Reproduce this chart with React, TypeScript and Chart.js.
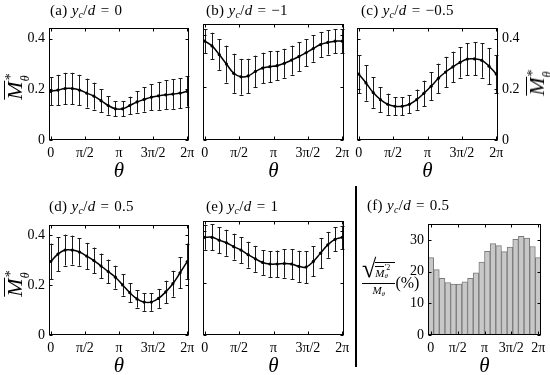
import React, { useEffect, useRef } from 'react';
import { Chart, registerables } from 'chart.js';

Chart.register(...registerables);

// ---------- data ----------
const THETA = Array.from({ length: 20 }, (_, i) => (2 * Math.PI * i) / 19);
const THETA_TICK_VALUES = [0, Math.PI / 2, Math.PI, (3 * Math.PI) / 2, 2 * Math.PI];
const THETA_TICK_LABELS = ['0', 'π/2', 'π', '3π/2', '2π'];
const M_TICK_VALUES = [0, 0.2, 0.4];
const M_TICK_LABELS = ['0', '0.2', '0.4'];
const F_TICK_VALUES = [0, 10, 20, 30];
const F_TICK_LABELS = ['0', '10', '20', '30'];

const A_MEAN = [0.192, 0.197, 0.203, 0.203, 0.197, 0.185, 0.173, 0.155, 0.136, 0.123, 0.123, 0.136, 0.15, 0.16, 0.169, 0.174, 0.178, 0.181, 0.185, 0.192];
const A_ERR = [0.055, 0.06, 0.062, 0.062, 0.06, 0.057, 0.053, 0.045, 0.036, 0.03, 0.03, 0.035, 0.042, 0.048, 0.052, 0.055, 0.057, 0.058, 0.059, 0.06];

const B_MEAN = [0.375, 0.357, 0.324, 0.288, 0.253, 0.24, 0.243, 0.26, 0.273, 0.278, 0.282, 0.291, 0.303, 0.316, 0.331, 0.347, 0.362, 0.37, 0.375, 0.375];
const B_ERR = [0.046, 0.05, 0.058, 0.07, 0.074, 0.068, 0.065, 0.06, 0.058, 0.058, 0.056, 0.055, 0.055, 0.054, 0.052, 0.05, 0.048, 0.046, 0.045, 0.045];

const C_MEAN = [0.26, 0.225, 0.187, 0.159, 0.141, 0.133, 0.133, 0.141, 0.159, 0.184, 0.212, 0.243, 0.268, 0.288, 0.306, 0.319, 0.32, 0.314, 0.291, 0.26];
const C_ERR = [0.075, 0.07, 0.06, 0.05, 0.042, 0.036, 0.035, 0.036, 0.04, 0.05, 0.055, 0.058, 0.06, 0.06, 0.06, 0.063, 0.065, 0.068, 0.072, 0.075];

const D_MEAN = [0.295, 0.325, 0.341, 0.341, 0.333, 0.317, 0.299, 0.277, 0.255, 0.232, 0.201, 0.17, 0.145, 0.132, 0.132, 0.147, 0.173, 0.206, 0.25, 0.295];
const D_ERR = [0.072, 0.068, 0.062, 0.058, 0.055, 0.053, 0.052, 0.05, 0.048, 0.046, 0.043, 0.038, 0.035, 0.035, 0.035, 0.038, 0.045, 0.052, 0.062, 0.072];

const E_MEAN = [0.377, 0.377, 0.366, 0.356, 0.341, 0.328, 0.31, 0.294, 0.28, 0.274, 0.274, 0.276, 0.274, 0.265, 0.262, 0.284, 0.316, 0.348, 0.369, 0.377];
const E_ERR = [0.048, 0.05, 0.05, 0.05, 0.05, 0.05, 0.05, 0.05, 0.048, 0.05, 0.052, 0.055, 0.058, 0.06, 0.062, 0.058, 0.058, 0.05, 0.046, 0.045];

const F_VALUES = [24.5, 20.7, 17.9, 16.6, 16.1, 16.1, 16.8, 17.9, 19.7, 23.1, 26.5, 28.9, 28.3, 26.4, 27.8, 30.3, 31.2, 30.7, 28.0, 24.5];

// ---------- layout ----------
const FONT = '"Liberation Serif", "Times New Roman", serif';
const SIDE = 45;
const TOP_PAD = 8;
const XAXIS_H = 44;

type Area = { l: number; r: number; t: number; b: number };
type Spec = {
  kind: 'line' | 'bar';
  values: number[];
  err?: number[];
  area: Area;
  yAxis: 'left' | 'right' | 'none';
  yMax: number;
  yTickValues: number[];
  yTickLabels: string[];
  xPad: number;
};

const SPECS: Spec[] = [
  { kind: 'line', values: A_MEAN, err: A_ERR, area: { l: 49, r: 189, t: 24, b: 140 }, yAxis: 'left', yMax: 0.44, yTickValues: M_TICK_VALUES, yTickLabels: M_TICK_LABELS, xPad: 0.08 },
  { kind: 'line', values: B_MEAN, err: B_ERR, area: { l: 203, r: 344, t: 24, b: 140 }, yAxis: 'none', yMax: 0.44, yTickValues: M_TICK_VALUES, yTickLabels: M_TICK_LABELS, xPad: 0.08 },
  { kind: 'line', values: C_MEAN, err: C_ERR, area: { l: 357, r: 498, t: 24, b: 140 }, yAxis: 'right', yMax: 0.44, yTickValues: M_TICK_VALUES, yTickLabels: M_TICK_LABELS, xPad: 0.08 },
  { kind: 'line', values: D_MEAN, err: D_ERR, area: { l: 49, r: 189, t: 221, b: 335 }, yAxis: 'left', yMax: 0.44, yTickValues: M_TICK_VALUES, yTickLabels: M_TICK_LABELS, xPad: 0.08 },
  { kind: 'line', values: E_MEAN, err: E_ERR, area: { l: 203, r: 344, t: 221, b: 335 }, yAxis: 'none', yMax: 0.44, yTickValues: M_TICK_VALUES, yTickLabels: M_TICK_LABELS, xPad: 0.08 },
  { kind: 'bar', values: F_VALUES, area: { l: 428, r: 541, t: 220, b: 335 }, yAxis: 'left', yMax: 35, yTickValues: F_TICK_VALUES, yTickLabels: F_TICK_LABELS, xPad: Math.PI / 19 },
];

// ---------- plugins ----------
const errorBarPlugin = {
  id: 'errbars',
  beforeDatasetsDraw(chart: any, _args: any, opts: any) {
    if (!opts || !opts.err) return;
    const { ctx, scales } = chart;
    const xs = scales.x;
    const ys = scales.y;
    ctx.save();
    ctx.strokeStyle = '#1a1a1a';
    ctx.lineWidth = 1;
    opts.x.forEach((xv: number, i: number) => {
      const px = Math.round(xs.getPixelForValue(xv)) + 0.5;
      const y1 = ys.getPixelForValue(opts.y[i] + opts.err[i]);
      const y2 = ys.getPixelForValue(opts.y[i] - opts.err[i]);
      ctx.beginPath();
      ctx.moveTo(px, y1);
      ctx.lineTo(px, y2);
      ctx.moveTo(px - 2, Math.round(y1) + 0.5);
      ctx.lineTo(px + 2, Math.round(y1) + 0.5);
      ctx.moveTo(px - 2, Math.round(y2) + 0.5);
      ctx.lineTo(px + 2, Math.round(y2) + 0.5);
      ctx.stroke();
    });
    ctx.restore();
  },
};

const framePlugin = {
  id: 'frame',
  afterDatasetsDraw(chart: any) {
    const { ctx, chartArea, scales } = chart;
    const l = Math.round(chartArea.left) + 0.5;
    const r = Math.round(chartArea.right) - 0.5;
    const t = Math.round(chartArea.top) + 0.5;
    const b = Math.round(chartArea.bottom) - 0.5;
    ctx.save();
    ctx.strokeStyle = '#000';
    ctx.lineWidth = 1;
    ctx.strokeRect(l, t, r - l, b - t);
    const tl = 3;
    ctx.beginPath();
    scales.x.ticks.forEach((tk: any) => {
      const px = Math.round(scales.x.getPixelForValue(tk.value)) + 0.5;
      ctx.moveTo(px, b);
      ctx.lineTo(px, b - tl);
      ctx.moveTo(px, t);
      ctx.lineTo(px, t + tl);
    });
    scales.y.ticks.forEach((tk: any) => {
      const py = Math.round(scales.y.getPixelForValue(tk.value)) + 0.5;
      ctx.moveTo(l, py);
      ctx.lineTo(l + tl, py);
      ctx.moveTo(r, py);
      ctx.lineTo(r - tl, py);
    });
    ctx.stroke();
    ctx.restore();
  },
};

function buildConfig(spec: Spec): any {
  const isBar = spec.kind === 'bar';
  const data = THETA.map((x, i) => ({ x, y: spec.values[i] }));
  const dataset: any = isBar
    ? {
        type: 'bar',
        data,
        backgroundColor: '#c8c8c8',
        borderColor: '#7a7a7a',
        borderWidth: 1,
        barPercentage: 1,
        categoryPercentage: 1,
      }
    : {
        type: 'line',
        data,
        borderColor: '#000',
        borderWidth: 1.5,
        backgroundColor: '#000',
        pointRadius: 1.6,
        pointBorderWidth: 0,
        pointBackgroundColor: '#000',
        tension: 0.4,
        fill: false,
      };
  const padding =
    spec.yAxis === 'right'
      ? { left: SIDE, right: 0, top: TOP_PAD, bottom: 0 }
      : { left: 0, right: SIDE, top: TOP_PAD, bottom: 0 };
  return {
    type: isBar ? 'bar' : 'line',
    data: { datasets: [dataset] },
    plugins: [errorBarPlugin, framePlugin],
    options: {
      responsive: false,
      maintainAspectRatio: false,
      animation: false,
      devicePixelRatio: 1,
      events: [],
      layout: { padding },
      plugins: {
        legend: { display: false },
        tooltip: { enabled: false },
        title: { display: false },
        errbars: spec.err ? { x: THETA, y: spec.values, err: spec.err } : {},
      },
      scales: {
        x: {
          type: 'linear',
          min: -spec.xPad,
          max: 2 * Math.PI + spec.xPad,
          offset: false,
          bounds: 'data',
          afterBuildTicks: (s: any) => {
            s.ticks = THETA_TICK_VALUES.map((v) => ({ value: v }));
          },
          afterFit: (s: any) => {
            s.height = XAXIS_H;
          },
          grid: { display: false, drawTicks: false },
          border: { display: false },
          ticks: {
            autoSkip: false,
            maxRotation: 0,
            padding: 5,
            color: '#000',
            font: { family: FONT, size: 14 },
            callback: (v: number) => {
              const idx = THETA_TICK_VALUES.findIndex((tv) => Math.abs(tv - v) < 1e-6);
              return idx >= 0 ? THETA_TICK_LABELS[idx] : '';
            },
          },
          title: {
            display: true,
            text: 'θ',
            color: '#000',
            padding: 0,
            font: { family: FONT, size: 21, style: 'italic' },
          },
        },
        y: {
          type: 'linear',
          position: spec.yAxis === 'right' ? 'right' : 'left',
          min: 0,
          max: spec.yMax,
          bounds: 'data',
          afterBuildTicks: (s: any) => {
            s.ticks = spec.yTickValues.map((v) => ({ value: v }));
          },
          afterFit: (s: any) => {
            s.width = SIDE;
          },
          grid: { display: false, drawTicks: false },
          border: { display: false },
          ticks: {
            display: spec.yAxis !== 'none',
            autoSkip: false,
            padding: 4,
            color: '#000',
            font: { family: FONT, size: 14 },
            callback: (v: number) => {
              const idx = spec.yTickValues.findIndex((tv) => Math.abs(tv - v) < 1e-9);
              return idx >= 0 ? spec.yTickLabels[idx] : '';
            },
          },
        },
      },
    },
  };
}

function ChartPanel({ spec }: { spec: Spec }) {
  const ref = useRef<HTMLCanvasElement>(null);
  const a = spec.area;
  const w = a.r - a.l + 2 * SIDE;
  const h = a.b - a.t + TOP_PAD + XAXIS_H;
  useEffect(() => {
    if (!ref.current) return;
    const chart = new Chart(ref.current, buildConfig(spec));
    return () => chart.destroy();
  }, []);
  return (
    <canvas
      ref={ref}
      width={w}
      height={h}
      style={{ position: 'absolute', left: a.l - SIDE, top: a.t - TOP_PAD, width: w, height: h }}
    />
  );
}

// ---------- text overlays ----------
function PanelTitle({ x, y, letter, value }: { x: number; y: number; letter: string; value: string }) {
  return (
    <div style={{ position: 'absolute', left: x, top: y, fontSize: 15, lineHeight: '15px', whiteSpace: 'nowrap', letterSpacing: 0.3 }}>
      ({letter})&nbsp;<i>y</i>
      <span style={{ fontSize: 10, position: 'relative', top: 3, fontStyle: 'italic' }}>c</span>/<i>d</i>
      <span style={{ margin: '0 5px' }}>=</span>
      {value}
    </div>
  );
}

function MLabel({ cx, cy }: { cx: number; cy: number }) {
  return (
    <div
      style={{
        position: 'absolute',
        left: cx,
        top: cy,
        transform: 'translate(-50%, -50%) rotate(-90deg)',
        whiteSpace: 'nowrap',
        fontSize: 22,
        lineHeight: '22px',
      }}
    >
      <span style={{ display: 'inline-block', borderTop: '1.5px solid #000', lineHeight: '19px', fontStyle: 'italic', paddingRight: 1 }}>M</span>
      <span style={{ position: 'relative', display: 'inline-block', width: 8, height: 22, verticalAlign: 'top' }}>
        <span style={{ position: 'absolute', left: 0, top: -4, fontSize: 14 }}>*</span>
        <span style={{ position: 'absolute', left: -1, top: 10, fontSize: 12, fontStyle: 'italic' }}>θ</span>
      </span>
    </div>
  );
}

function FLabel() {
  return (
    <div style={{ position: 'absolute', left: 362, top: 256, display: 'flex', alignItems: 'center', whiteSpace: 'nowrap' }}>
      <div style={{ display: 'inline-flex', flexDirection: 'column', alignItems: 'center' }}>
        <div style={{ display: 'flex', alignItems: 'flex-end', borderBottom: '1px solid #000', paddingBottom: 1 }}>
          <span style={{ fontSize: 26, lineHeight: '26px' }}>√</span>
          <span
            style={{
              borderTop: '1px solid #000',
              marginLeft: -1,
              paddingTop: 3,
              paddingRight: 2,
              fontSize: 11,
              lineHeight: '14px',
              marginBottom: 2,
            }}
          >
            <span style={{ borderTop: '1px solid #000', fontStyle: 'italic' }}>M</span>
            <span style={{ position: 'relative', display: 'inline-block', width: 9, height: 10 }}>
              <span style={{ position: 'absolute', left: 0, top: -6, fontSize: 8 }}>′2</span>
              <span style={{ position: 'absolute', left: 0, top: 2, fontSize: 7, fontStyle: 'italic' }}>θ</span>
            </span>
          </span>
        </div>
        <div style={{ fontSize: 11, lineHeight: '13px' }}>
          <span style={{ borderTop: '1px solid #000', fontStyle: 'italic' }}>M</span>
          <span style={{ fontSize: 7, fontStyle: 'italic', position: 'relative', top: 2 }}>θ</span>
        </div>
      </div>
      <span style={{ fontSize: 16, position: 'relative', top: 5 }}>(%)</span>
    </div>
  );
}

export default function App() {
  return (
    <div
      style={{
        position: 'fixed',
        left: 0,
        top: 0,
        width: 550,
        height: 375,
        background: '#fff',
        color: '#000',
        fontFamily: FONT,
        overflow: 'hidden',
      }}
    >
      {SPECS.map((s, i) => (
        <ChartPanel key={i} spec={s} />
      ))}
      <PanelTitle x={50} y={3} letter="a" value="0" />
      <PanelTitle x={206} y={3} letter="b" value="−1" />
      <PanelTitle x={361} y={3} letter="c" value="−0.5" />
      <PanelTitle x={49} y={199} letter="d" value="0.5" />
      <PanelTitle x={206} y={199} letter="e" value="1" />
      <PanelTitle x={367} y={198} letter="f" value="0.5" />
      <MLabel cx={15} cy={86} />
      <MLabel cx={15} cy={283} />
      <MLabel cx={537} cy={82} />
      <FLabel />
      <div style={{ position: 'absolute', left: 355, top: 186, width: 2, height: 181, background: '#000' }} />
    </div>
  );
}
